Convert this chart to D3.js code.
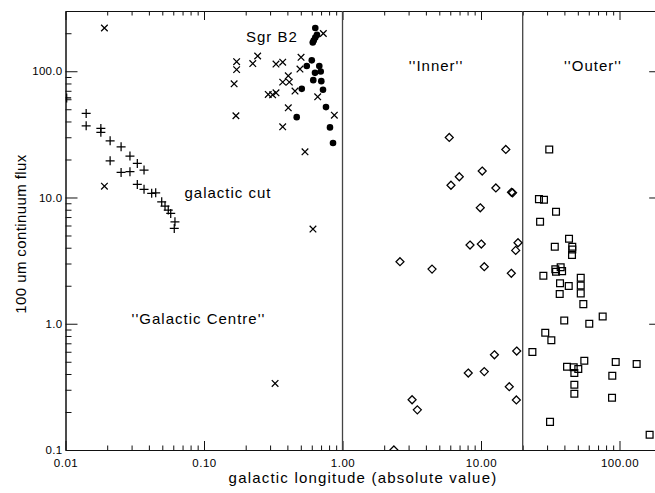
<!DOCTYPE html>
<html>
<head>
<meta charset="utf-8">
<script src="https://cdn.jsdelivr.net/npm/d3@7"></script>
<style>
  body { margin: 0; background: #fff; }
  text { font-family: "Liberation Sans", Arial, sans-serif; fill: #000; }
</style>
</head>
<body>
<svg id="chart" width="655" height="493"></svg>
<script>
// Axis ticks
const xTicks = [0.01, 0.1, 1, 10, 100];
const xTickLabels = ["0.01", "0.10", "1.00", "10.00", "100.00"];
const yTicks = [0.1, 1, 10, 100];
const yTickLabels = ["0.1", "1.0", "10.0", "100.0"];

// Longitudes separating the "Galactic Centre", "Inner" and "Outer" regions
const regionBounds = [1, 20];

// [longitude, 100 um flux] per source
const galacticCut = [
  [0.0102, 61.5], [0.0141, 46.3], [0.0141, 37.0], [0.0180, 35.2], [0.0180, 32.8],
  [0.0210, 28.1], [0.0210, 19.5], [0.0252, 25.2], [0.0252, 15.8], [0.0292, 21.3],
  [0.0292, 16.0], [0.0330, 18.6], [0.0369, 16.5], [0.0330, 12.7], [0.0369, 11.6],
  [0.0419, 10.8], [0.0448, 10.9], [0.0495, 9.25], [0.0523, 8.55], [0.0552, 7.95],
  [0.0575, 7.48], [0.0617, 6.42], [0.0610, 5.69]
];

const centreSources = [
  [0.0191, 220], [0.0191, 12.3], [0.727, 199], [0.172, 119], [0.172, 103],
  [0.225, 115], [0.244, 132], [0.331, 114], [0.370, 118], [0.502, 129],
  [0.493, 104], [0.406, 92], [0.370, 82], [0.413, 82], [0.165, 79.5],
  [0.291, 65.5], [0.313, 65], [0.331, 67.5], [0.454, 69.6], [0.662, 62.7],
  [0.406, 51.3], [0.170, 44.4], [0.873, 44.9], [0.370, 36.3], [0.536, 23.0],
  [0.612, 5.62], [0.326, 0.337]
];

const sgrB2 = [
  [0.636, 220], [0.654, 194], [0.636, 185], [0.620, 175], [0.610, 169],
  [0.600, 122], [0.552, 110], [0.680, 110], [0.696, 99.6], [0.633, 97.1],
  [0.615, 85.0], [0.703, 83.5], [0.508, 72.5], [0.723, 71.3], [0.760, 52.0],
  [0.467, 43.3], [0.812, 35.9], [0.854, 27.0]
];

const innerSources = [
  [5.90, 29.9], [15.1, 24.0], [10.2, 16.2], [6.97, 14.6], [6.07, 12.5],
  [12.8, 11.9], [16.6, 11.0], [16.9, 10.9], [9.88, 8.29], [18.5, 4.38],
  [17.8, 3.81], [8.33, 4.20], [10.05, 4.28], [2.60, 3.10], [4.43, 2.71],
  [10.56, 2.83], [16.55, 2.51], [18.1, 0.608], [12.5, 0.568], [8.09, 0.407],
  [10.56, 0.418], [16.0, 0.317], [18.0, 0.249], [3.18, 0.250], [3.47, 0.208],
  [2.35, 0.1]
];

const outerSources = [
  [31.1, 24.0], [26.2, 9.71], [28.5, 9.59], [34.8, 7.71], [26.7, 6.42],
  [43.2, 4.71], [34.1, 4.07], [45.6, 4.07], [45.6, 3.88], [45.4, 3.50],
  [37.6, 2.80], [34.4, 2.70], [38.5, 2.61], [34.8, 2.58], [28.2, 2.40],
  [52.5, 2.31], [37.2, 2.09], [43.0, 1.99], [52.5, 2.01], [37.0, 1.72],
  [52.5, 1.74], [54.8, 1.43], [75.6, 1.14], [39.9, 1.06], [60.5, 1.00],
  [29.1, 0.848], [32.2, 0.739], [23.5, 0.597], [55.7, 0.509], [93.9, 0.497],
  [133, 0.480], [41.8, 0.457], [46.7, 0.452], [50.4, 0.438], [47.2, 0.407],
  [88.7, 0.388], [47.2, 0.329], [47.2, 0.279], [88.3, 0.259], [31.5, 0.167],
  [165, 0.132]
];

const svg = d3.select("#chart");
const plotLeft = 65.5, plotRight = 661.2, plotTop = 11, plotBottom = 450;

const x = d3.scaleLog().domain([0.01, 200]).range([plotLeft, plotRight]);
const y = d3.scaleLog().domain([0.1, 300]).range([plotBottom, plotTop]);

// Minor tick positions: 2..9 within each decade
function minorTicks(domain) {
  const out = [];
  const lo = Math.floor(Math.log10(domain[0])), hi = Math.ceil(Math.log10(domain[1]));
  for (let e = lo; e < hi; e++) {
    for (let m = 2; m <= 9; m++) {
      const v = m * Math.pow(10, e);
      if (v > domain[0] && v < domain[1]) out.push(v);
    }
  }
  return out;
}
const xMinor = minorTicks(x.domain());
const yMinor = minorTicks(y.domain());

const axisColor = "#111";
const xMajorLen = 9, xMinorLen = 4.5, yMajorLen = 12, yMinorLen = 6;

function styleAxis(g) {
  g.select(".domain").attr("stroke", axisColor).attr("stroke-width", 1);
  g.selectAll(".tick line").attr("stroke", axisColor).attr("stroke-width", 1);
}

// Bottom axis with labels, ticks pointing into the plot
svg.append("g")
  .attr("transform", `translate(0,${plotBottom})`)
  .call(d3.axisBottom(x).tickValues(xTicks)
    .tickFormat((d, i) => xTickLabels[i]).tickSize(-xMajorLen).tickPadding(9).tickSizeOuter(0))
  .call(styleAxis)
  .call(g => g.selectAll("text").attr("font-size", 11.5).attr("letter-spacing", 0.5)
    .attr("font-family", "Liberation Sans, Arial, sans-serif").attr("fill", "#000"));
svg.append("g")
  .attr("transform", `translate(0,${plotBottom})`)
  .call(d3.axisBottom(x).tickValues(xMinor).tickFormat("").tickSize(-xMinorLen).tickSizeOuter(0))
  .call(styleAxis);

// Top axis, ticks only
svg.append("g")
  .attr("transform", `translate(0,${plotTop})`)
  .call(d3.axisTop(x).tickValues(xTicks).tickFormat("").tickSize(-xMajorLen).tickSizeOuter(0))
  .call(styleAxis);
svg.append("g")
  .attr("transform", `translate(0,${plotTop})`)
  .call(d3.axisTop(x).tickValues(xMinor).tickFormat("").tickSize(-xMinorLen).tickSizeOuter(0))
  .call(styleAxis);

// Left axis with labels
svg.append("g")
  .attr("transform", `translate(${plotLeft},0)`)
  .call(d3.axisLeft(y).tickValues(yTicks)
    .tickFormat((d, i) => yTickLabels[i]).tickSize(-yMajorLen).tickPadding(3).tickSizeOuter(0))
  .call(styleAxis)
  .call(g => g.selectAll("text").attr("font-size", 11.5).attr("letter-spacing", 0.3)
    .attr("font-family", "Liberation Sans, Arial, sans-serif").attr("fill", "#000"));
svg.append("g")
  .attr("transform", `translate(${plotLeft},0)`)
  .call(d3.axisLeft(y).tickValues(yMinor).tickFormat("").tickSize(-yMinorLen).tickSizeOuter(0))
  .call(styleAxis);

// Right axis, ticks only
svg.append("g")
  .attr("transform", `translate(${plotRight},0)`)
  .call(d3.axisRight(y).tickValues(yTicks).tickFormat("").tickSize(-yMajorLen).tickSizeOuter(0))
  .call(styleAxis);
svg.append("g")
  .attr("transform", `translate(${plotRight},0)`)
  .call(d3.axisRight(y).tickValues(yMinor).tickFormat("").tickSize(-yMinorLen).tickSizeOuter(0))
  .call(styleAxis);

// Region boundaries
svg.append("g").selectAll("line").data(regionBounds).join("line")
  .attr("x1", d => x(d)).attr("x2", d => x(d))
  .attr("y1", plotTop).attr("y2", plotBottom)
  .attr("stroke", "#444").attr("stroke-width", 1.3);

// Symbols clipped to the plot window
svg.append("clipPath").attr("id", "plotClip")
  .append("rect").attr("x", plotLeft).attr("y", plotTop)
  .attr("width", plotRight - plotLeft).attr("height", plotBottom - plotTop);

const marks = svg.append("g").attr("clip-path", "url(#plotClip)");
const sw = 1.25;

const plusPath = (cx, cy, r) => `M${cx - r},${cy}H${cx + r}M${cx},${cy - r}V${cy + r}`;
const crossPath = (cx, cy, r) => `M${cx - r},${cy - r}L${cx + r},${cy + r}M${cx - r},${cy + r}L${cx + r},${cy - r}`;
const diamondPath = (cx, cy, r) => `M${cx},${cy - r}L${cx + r},${cy}L${cx},${cy + r}L${cx - r},${cy}Z`;
const squarePath = (cx, cy, r) => `M${cx - r},${cy - r}H${cx + r}V${cy + r}H${cx - r}Z`;

function drawSeries(data, pathFn, r) {
  marks.append("g").selectAll("path").data(data).join("path")
    .attr("d", d => pathFn(x(d[0]), y(d[1]), r))
    .attr("fill", "none").attr("stroke", "#000").attr("stroke-width", sw);
}

drawSeries(galacticCut, plusPath, 4.5);
drawSeries(centreSources, crossPath, 3.3);
drawSeries(innerSources, diamondPath, 4);
drawSeries(outerSources, squarePath, 3.4);

marks.append("g").selectAll("circle").data(sgrB2).join("circle")
  .attr("cx", d => x(d[0])).attr("cy", d => y(d[1])).attr("r", 3.3)
  .attr("fill", "#000");

// Annotations
const notes = [
  { t: "Sgr B2", x: 246, y: 42, a: "start" },
  { t: "''Inner''", x: 436, y: 71, a: "middle" },
  { t: "''Outer''", x: 593, y: 71, a: "middle" },
  { t: "galactic cut", x: 228, y: 198, a: "middle" },
  { t: "''Galactic Centre''", x: 198.5, y: 324, a: "middle" }
];
svg.append("g").selectAll("text").data(notes).join("text")
  .attr("x", d => d.x).attr("y", d => d.y).attr("text-anchor", d => d.a)
  .attr("font-size", 15).attr("letter-spacing", 1.0)
  .text(d => d.t);

// Axis titles
svg.append("text")
  .attr("x", 363).attr("y", 483).attr("text-anchor", "middle")
  .attr("font-size", 15).attr("letter-spacing", 1.2)
  .text("galactic longitude (absolute value)");
svg.append("text")
  .attr("transform", "translate(26,234) rotate(-90)").attr("text-anchor", "middle")
  .attr("font-size", 15).attr("letter-spacing", 0.4)
  .text("100 um continuum flux");
</script>
</body>
</html>
